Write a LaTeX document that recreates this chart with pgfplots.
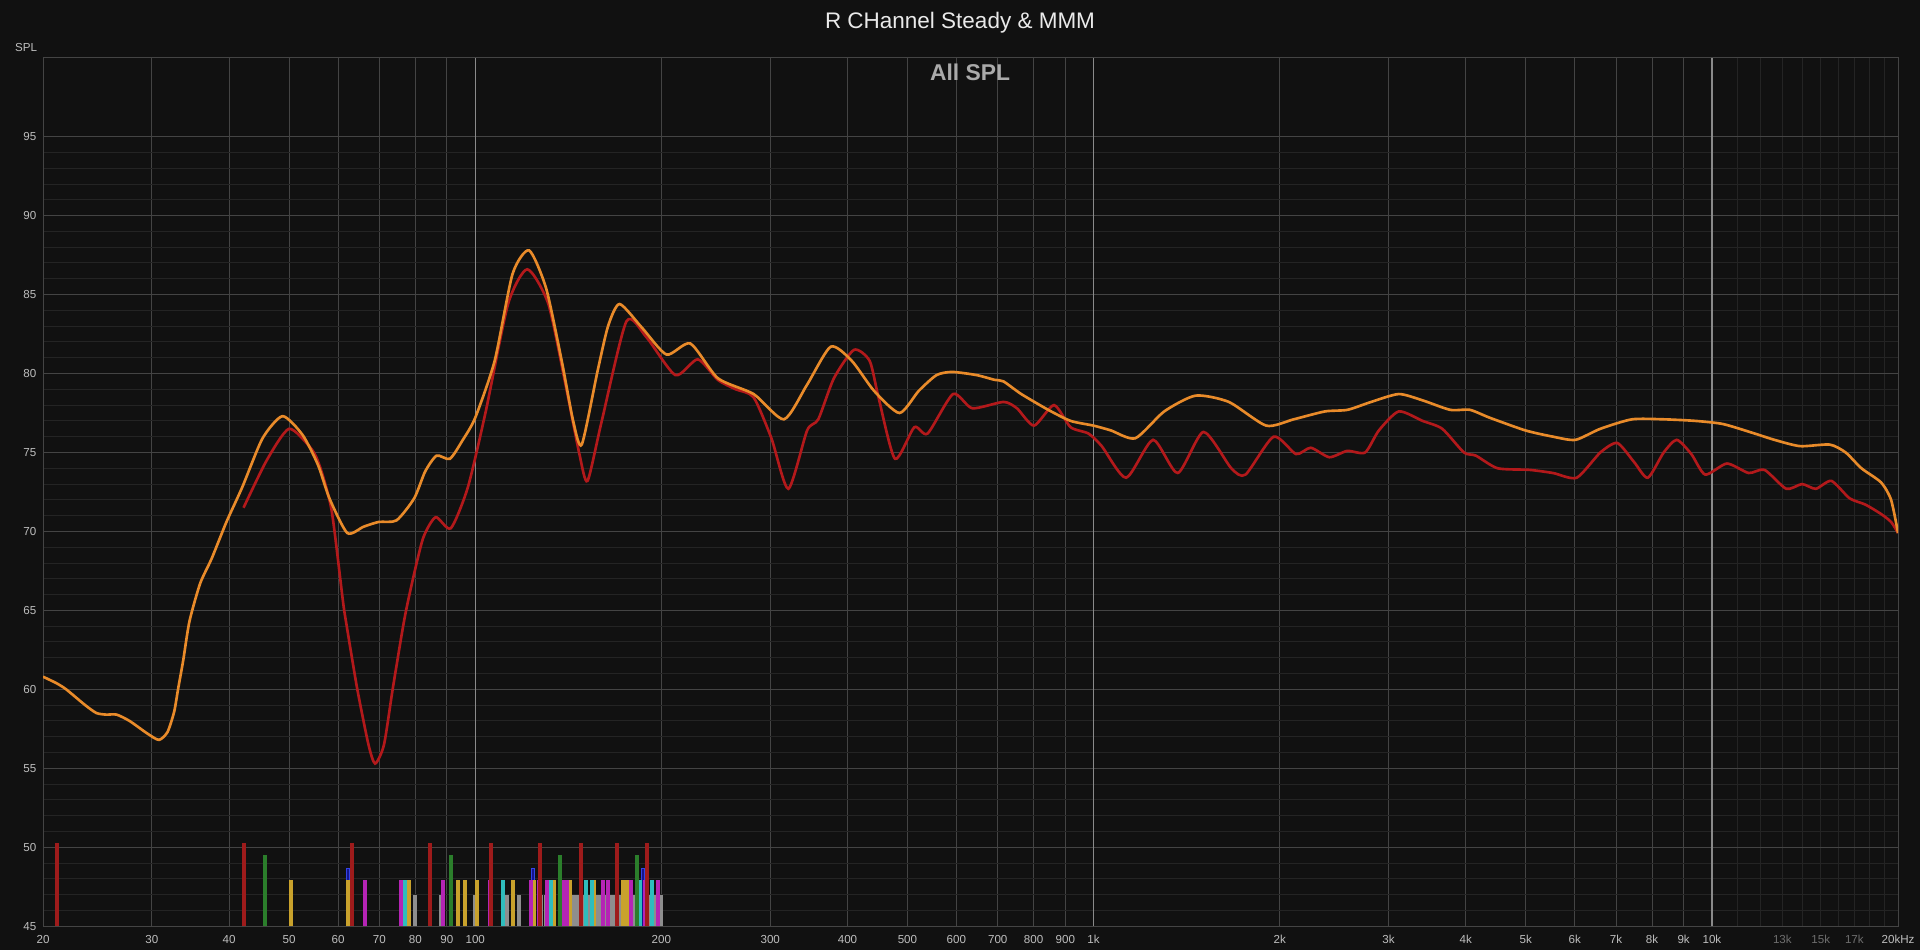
\documentclass[border=0pt]{standalone}
\usepackage{fontspec}
\setmainfont{Liberation Sans}
\usepackage{pgfplots}
\pgfplotsset{compat=1.18}

\definecolor{bgc}{HTML}{111111}
\definecolor{gmaj}{HTML}{444444}
\definecolor{gmin}{HTML}{242424}
\definecolor{gdec}{HTML}{8A8A8A}
\definecolor{lbl}{HTML}{BEBEBE}
\definecolor{lbldim}{HTML}{6E6E6E}
\definecolor{ctitle}{HTML}{EAEAEA}
\definecolor{callspl}{HTML}{AAAAAA}
\definecolor{corange}{HTML}{E98B2A}
\definecolor{cred}{HTML}{B3191B}
\definecolor{bred}{HTML}{9E1B1B}
\definecolor{bgreen}{HTML}{2B7E2B}
\definecolor{byellow}{HTML}{C9A22C}
\definecolor{bmag}{HTML}{B524B5}
\definecolor{bcyan}{HTML}{2FBDBD}
\definecolor{bgray}{HTML}{8E8E8E}
\definecolor{bblue}{HTML}{14148C}
\definecolor{bblueo}{HTML}{3344E6}

\begin{document}
\begin{tikzpicture}
\fill[bgc] (0,0) rectangle (192mm,95mm);
\begin{axis}[
    at={(4.3mm,2.4mm)}, anchor=south west,
    scale only axis, width=185.5mm, height=86.85mm,
    xmode=log, xmin=20, xmax=20000, ymin=45, ymax=100,
    axis background/.style={fill=bgc},
    axis line style={draw=gmaj, line width=0.1mm},
    major tick length=0pt, minor tick length=0pt,
    grid=both,
    major grid style={draw=gmaj, line width=0.1mm},
    minor grid style={draw=gmin, line width=0.1mm},
    xtick={20,30,40,50,60,70,80,90,100,200,300,400,500,600,700,800,900,1000,2000,3000,4000,5000,6000,7000,8000,9000,10000,20000},
    xticklabels={20,30,40,50,60,70,80,90,100,200,300,400,500,600,700,800,900,1k,2k,3k,4k,5k,6k,7k,8k,9k,10k,20kHz},
    minor xtick={11000,12000,13000,14000,15000,16000,17000,18000,19000},
    extra x ticks={13000,15000,17000},
    extra x tick labels={13k,15k,17k},
    extra x tick style={grid=none, xticklabel style={text=lbldim}},
    ytick={45,50,55,60,65,70,75,80,85,90,95},
    yticklabels={45,50,55,60,65,70,75,80,85,90,95},
    minor y tick num=4,
    tick label style={font=\fontsize{3.3}{4}\selectfont, text=lbl, inner sep=0pt},
    xticklabel style={anchor=north, yshift=-0.8mm},
    yticklabel style={anchor=east, xshift=-0.6mm},
]
\draw[gdec, line width=0.12mm] (axis cs:100,45) -- (axis cs:100,100);
\draw[gdec, line width=0.12mm] (axis cs:1000,45) -- (axis cs:1000,100);
\draw[gdec, line width=0.12mm] (axis cs:10000,45) -- (axis cs:10000,100);

% mode markers
\addplot[ycomb, draw=bgray, line width=0.4mm] coordinates {
(80.0,47.0) (88.0,47.0) (100,47.0) (112.6,47.0) (117.8,47.0) (127.9,47.0) (130.0,47.0)
(144.5,47.0) (146.5,47.0) (148.5,47.0) (150.5,47.0) (152.5,47.0) (154.5,47.0) (156.5,47.0)
(158.5,47.0) (160.5,47.0) (162.5,47.0) (164.5,47.0) (166.5,47.0) (168.5,47.0) (170.5,47.0)
(172.5,47.0) (174.5,47.0) (176.5,47.0) (178.5,47.0) (180.5,47.0) (182.5,47.0) (184.5,47.0)
(186.5,47.0) (188.5,47.0) (190.5,47.0) (192.5,47.0) (194.5,47.0) (196.5,47.0) (198.5,47.0)
(199.4,47.0)};
\addplot[ycomb, draw=bblueo, line width=0.4mm] coordinates {(62.2,48.7) (124.2,48.7) (186.7,48.7)};
\addplot[ycomb, draw=bblue, line width=0.2mm] coordinates {(62.2,48.6) (124.2,48.6) (186.7,48.6)};
\addplot[ycomb, draw=byellow, line width=0.4mm] coordinates {
(50.3,47.9) (62.2,47.9) (78.2,47.9) (93.7,47.9) (96.2,47.9) (100.7,47.9) (115.0,47.9)
(124.4,47.9) (134.3,47.9) (142.2,47.9) (155.7,47.9) (173.6,47.9) (175.8,47.9)};
\addplot[ycomb, draw=bmag, line width=0.4mm] coordinates {
(66.3,47.9) (75.8,47.9) (88.8,47.9) (105.5,47.9) (123.1,47.9) (126.8,47.9) (130.8,47.9)
(139.0,47.9) (140.5,47.9) (161.1,47.9) (163.9,47.9) (178.8,47.9) (188.4,47.9) (197.3,47.9)};
\addplot[ycomb, draw=bcyan, line width=0.4mm] coordinates {
(77.0,47.9) (110.8,47.9) (132.6,47.9) (150.9,47.9) (154.7,47.9) (184.4,47.9) (192.8,47.9)};
\addplot[ycomb, draw=bgreen, line width=0.4mm] coordinates {
(45.7,49.5) (91.5,49.5) (137.1,49.5) (182.6,49.5)};
\addplot[ycomb, draw=bred, line width=0.4mm] coordinates {
(21.1,50.3) (42.3,50.3) (63.2,50.3) (84.5,50.3) (106.1,50.3) (127.2,50.3)
(148.1,50.3) (169.8,50.3) (189.9,50.3)};

% Steady
\addplot[cred, line width=0.75pt, smooth, tension=0.4] table {
f db
42.2 71.5
46.0 74.5
50.0 76.5
54.4 75.2
56.2 74.0
58.6 71.3
61.1 65.6
61.8 64.3
64.4 60.1
67.2 56.5
68.9 55.3
71.2 56.5
73.6 60.1
76.7 64.3
79.0 66.7
82.4 69.6
86.3 70.9
91.3 70.2
97.3 72.8
104 77.6
113 84.4
121.4 86.6
131.3 84.4
140.3 79.1
147.4 74.9
151.9 73.2
160.2 77.0
175.6 83.3
189.2 82.3
210.7 79.9
229 80.9
246.8 79.6
263.8 79.0
281.9 78.5
301.3 75.9
320.9 72.7
344.2 76.4
358.8 77.1
380.3 79.7
409.8 81.5
434.4 80.8
448.9 78.5
477.4 74.6
513 76.6
539 76.2
592.6 78.7
636.6 77.8
715 78.2
751.6 77.8
801 76.7
863 78.0
918 76.6
981 76.2
1031 75.4
1129 73.4
1248 75.8
1368 73.7
1506 76.3
1670 74.0
1761 73.6
1955 76.0
2125 74.9
2245 75.3
2406 74.7
2572 75.1
2749 75.0
2894 76.4
3116 77.6
3405 77.0
3664 76.5
3972 75.0
4152 74.8
4502 74.0
5066 73.9
5533 73.7
6043 73.4
6601 75.0
7031 75.6
7482 74.4
7877 73.4
8356 75.0
8772 75.8
9262 74.9
9752 73.6
10575 74.3
11465 73.7
12162 73.9
13188 72.7
13987 73.0
14723 72.7
15604 73.2
16695 72.1
17708 71.7
18780 71.1
19490 70.6
20000 69.9
};

% MMM
\addplot[corange, line width=0.75pt, smooth, tension=0.4] table {
f db
20.0 60.8
21.0 60.4
21.8 60.0
23.4 59.0
24.4 58.5
25.3 58.4
26.3 58.4
27.6 58.0
29.5 57.2
30.8 56.8
31.8 57.3
32.6 58.6
33.1 60.1
33.7 61.8
34.5 64.3
35.9 66.7
37.5 68.3
39.6 70.6
42.0 72.8
45.3 75.9
48.8 77.3
52.6 76.1
55.7 74.2
58.1 72.1
62.1 69.9
66.0 70.3
69.8 70.6
74.6 70.7
79.7 72.1
83.0 73.8
86.6 74.8
91.0 74.6
95.5 75.8
100 77.2
107.5 80.8
114.9 86.3
122.2 87.8
130.2 85.4
138.0 80.8
144.0 77.0
148.7 75.5
157.6 80.1
164 83.0
171.2 84.4
186.1 82.9
203.9 81.2
222.8 81.9
246.9 79.7
282 78.7
315.7 77.1
344.2 79.3
375.8 81.7
406.5 80.8
441.6 78.9
485.4 77.5
521.5 78.9
557.2 79.9
590.6 80.1
647 79.9
691.6 79.6
715 79.5
764 78.7
844.6 77.7
918 77.0
1000 76.7
1066 76.4
1168 75.9
1301 77.6
1462 78.6
1655 78.2
1902 76.7
2107 77.1
2367 77.6
2574 77.7
2811 78.2
3116 78.7
3405 78.3
3774 77.7
4061 77.7
4372 77.2
4990 76.4
5533 76.0
6017 75.8
6601 76.5
7427 77.1
8356 77.1
9400 77.0
10424 76.8
11725 76.2
12620 75.8
13888 75.4
15507 75.5
16454 75.0
17450 74.0
18780 73.1
19490 72.0
20000 69.9
};
\end{axis}
\node[text=ctitle, font=\fontsize{6.4}{7}\selectfont] at (96mm,92.8mm) {R CHannel Steady \& MMM};
\node[text=callspl, font=\bfseries\fontsize{6.5}{7}\selectfont] at (97mm,87.8mm) {All SPL};
\node[text=lbl, font=\fontsize{3.3}{4}\selectfont] at (2.6mm,90.3mm) {SPL};
\end{tikzpicture}
\end{document}
